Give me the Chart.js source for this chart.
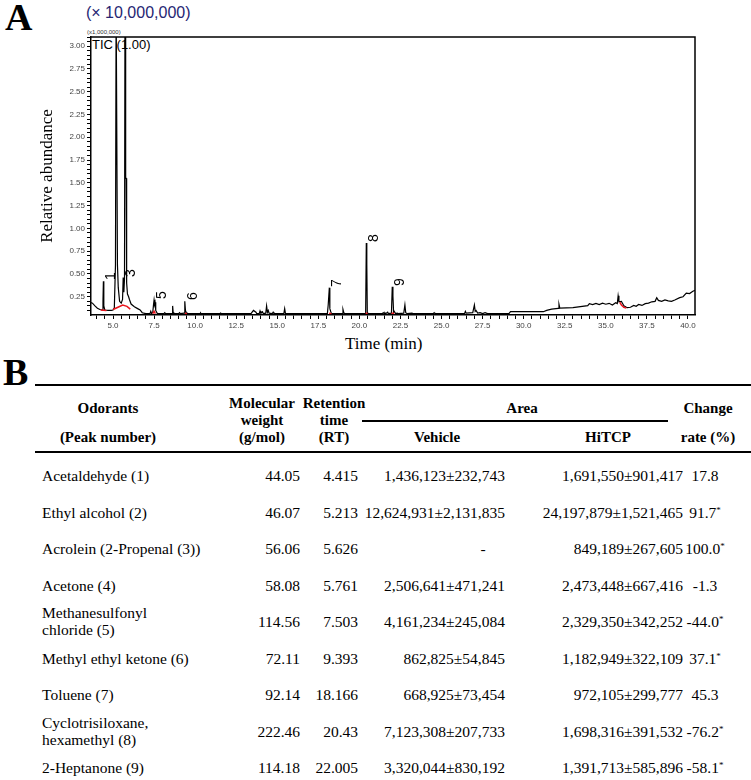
<!DOCTYPE html>
<html><head><meta charset="utf-8">
<script src="https://cdn.jsdelivr.net/npm/chart.js@4.4.1/dist/chart.umd.min.js"></script>
<style>
html,body{margin:0;padding:0;background:#fff;}
#page{position:relative;width:751px;height:780px;overflow:hidden;background:#fff;font-family:"Liberation Serif","Times New Roman",serif;color:#000;}
.abs{position:absolute;white-space:nowrap;line-height:1;}
#chartBox{position:absolute;left:0;top:0;width:751px;height:360px;z-index:2;}
.panel{font-weight:bold;font-size:38px;}
.plab{position:absolute;font-family:"Liberation Sans",Arial,sans-serif;font-size:14px;line-height:1;white-space:nowrap;transform:translate(-50%,-50%) rotate(-90deg);z-index:3;color:#000;}
.cell{position:absolute;white-space:nowrap;font-size:15.5px;line-height:17px;transform:translateY(-50%);}
.hd{font-weight:bold;font-size:15px;}
.rule{position:absolute;background:#000;}
sup{font-size:9px;vertical-align:top;position:relative;top:-2px;}
</style></head>
<body><div id="page">
<div class="abs panel" style="left:5px;top:-2px;">A</div>
<div class="abs" style="left:86px;top:5px;font-family:'Liberation Sans',Arial,sans-serif;font-size:16px;color:#262673;">(× 10,000,000)</div>
<div class="abs" style="left:87px;top:29px;font-family:'Liberation Sans',Arial,sans-serif;font-size:6px;color:#333;z-index:1;">(x1,000,000)</div>
<div class="abs" style="left:92px;top:38px;font-family:'Liberation Sans',Arial,sans-serif;font-size:13px;color:#000;z-index:1;">TIC (1.00)</div>
<div id="chartBox"><canvas id="c" width="751" height="360"></canvas></div>
<div class="abs" style="left:345px;top:335px;font-size:17px;">Time (min)</div>
<div class="abs panel" style="left:3px;top:353px;">B</div>
</div>
<script>
// ---------- Chromatogram data (time in min, abundance in x1,000,000) ----------
const times = [3.66,3.75,3.9,4.05,4.2,4.35,4.39,4.415,4.44,4.5,4.7,4.9,5.0,5.08,5.15,5.19,5.23,5.27,5.32,5.4,5.5,5.58,5.62,5.66,5.70,5.73,5.76,5.78,5.80,5.83,5.88,5.95,6.0,6.1,6.3,6.5,6.65,6.78,7.0,
7.25,7.3,7.35,7.42,7.47,7.50,7.53,7.56,7.6,7.7,8.1,8.15,8.2,8.6,8.63,8.66,8.7,9.0,9.05,9.1,9.33,9.37,9.41,9.45,9.5,10.3,10.33,10.36,11.5,11.55,11.6,
13.4,13.55,13.7,13.75,13.9,13.95,14.0,14.1,14.15,14.3,14.35,14.4,14.45,14.5,14.7,14.75,14.8,15.4,15.45,15.5,
18.05,18.1,18.17,18.2,18.25,18.3,18.95,19.0,19.05,19.1,20.38,20.42,20.45,20.48,20.5,21.4,21.45,21.5,21.55,21.6,21.72,21.76,21.95,22.0,22.04,22.08,22.12,22.2,22.3,22.35,22.7,22.77,22.82,22.9,23.2,23.25,24.5,24.55,24.6,
26.4,26.45,26.5,26.9,27.0,27.05,27.1,27.2,27.35,27.5,27.65,27.8,29.1,29.2,31.2,31.4,31.7,32.1,32.15,32.2,33.0,33.9,34.0,34.2,34.4,34.6,34.8,35.0,35.2,35.4,35.6,35.7,35.75,35.8,35.95,36.1,36.3,36.5,36.7,36.85,37.0,37.2,37.4,37.6,37.8,38.0,38.1,38.2,38.4,38.6,38.8,39.0,39.2,39.5,39.7,39.9,40.1,40.3,40.43];
const abundance = [0.185,0.18,0.15,0.125,0.11,0.105,0.2,0.42,0.15,0.105,0.1,0.1,0.105,0.13,0.60,3.5,3.5,0.6,0.35,0.2,0.18,0.22,0.46,0.3,0.45,3.5,3.5,1.55,1.55,0.4,0.28,0.25,0.22,0.17,0.14,0.12,0.105,0.075,0.065,
0.065,0.09,0.065,0.08,0.17,0.215,0.17,0.19,0.1,0.065,0.065,0.075,0.065,0.065,0.15,0.08,0.065,0.065,0.075,0.065,0.07,0.2,0.1,0.08,0.065,0.065,0.072,0.065,0.065,0.072,0.065,
0.065,0.1,0.08,0.065,0.065,0.095,0.07,0.085,0.065,0.07,0.15,0.08,0.1,0.07,0.065,0.08,0.065,0.065,0.12,0.065,
0.065,0.16,0.35,0.12,0.09,0.065,0.065,0.11,0.075,0.065,0.065,0.84,0.61,0.08,0.065,0.065,0.075,0.065,0.075,0.065,0.08,0.065,0.07,0.36,0.26,0.08,0.09,0.065,0.07,0.065,0.07,0.16,0.075,0.065,0.07,0.065,0.065,0.075,0.065,
0.065,0.09,0.07,0.075,0.16,0.09,0.1,0.07,0.075,0.065,0.075,0.065,0.065,0.086,0.086,0.1,0.115,0.123,0.167,0.125,0.13,0.152,0.175,0.165,0.178,0.165,0.18,0.168,0.178,0.16,0.185,0.175,0.26,0.195,0.2,0.15,0.13,0.135,0.155,0.145,0.165,0.155,0.175,0.18,0.195,0.2,0.24,0.21,0.2,0.215,0.205,0.2,0.215,0.24,0.25,0.29,0.285,0.31,0.32];
// red integration baselines (null = break)
const redTimes = [4.25,4.6,4.6, 5.0,5.3,5.59,5.85,6.05,6.05, 7.42,7.5,7.58,7.58, 9.38,9.5,9.5, 18.15,18.3,18.3, 20.38,20.5,20.5, 21.95,22.12,22.12, 35.85,35.95,36.1,36.25];
const redValues = [0.105,0.1,null, 0.11,0.135,0.16,0.145,0.115,null, 0.065,0.09,0.065,null, 0.07,0.065,null, 0.07,0.065,null, 0.07,0.07,null, 0.07,0.07,null, 0.19,0.16,0.135,0.125];
// labelled peaks
const peakNumbers = ["1","3","5","6","7","8","9"];
const peakTimes = [4.415,5.62,7.50,9.37,18.17,20.42,22.0];
const peakApex = [0.42,0.46,0.215,0.2,0.35,0.84,0.36];
// axis ticks
const xMajorTicks = [5.0,7.5,10.0,12.5,15.0,17.5,20.0,22.5,25.0,27.5,30.0,32.5,35.0,37.5,40.0];
const yMajorTicks = [0.25,0.50,0.75,1.00,1.25,1.50,1.75,2.00,2.25,2.50,2.75,3.00];

// ---------- Table data ----------
const odorants = ["Acetaldehyde (1)","Ethyl alcohol (2)","Acrolein (2-Propenal (3))","Acetone (4)","Methanesulfonyl\nchloride (5)","Methyl ethyl ketone (6)","Toluene (7)","Cyclotrisiloxane,\nhexamethyl (8)","2-Heptanone (9)"];
const molWeight = ["44.05","46.07","56.06","58.08","114.56","72.11","92.14","222.46","114.18"];
const retTime = ["4.415","5.213","5.626","5.761","7.503","9.393","18.166","20.43","22.005"];
const vehicleArea = ["1,436,123±232,743","12,624,931±2,131,835","-","2,506,641±471,241","4,161,234±245,084","862,825±54,845","668,925±73,454","7,123,308±207,733","3,320,044±830,192"];
const hitcpArea = ["1,691,550±901,417","24,197,879±1,521,465","849,189±267,605","2,473,448±667,416","2,329,350±342,252","1,182,949±322,109","972,105±299,777","1,698,316±391,532","1,391,713±585,896"];
const changeRate = ["17.8","91.7","100.0","-1.3","-44.0","37.1","45.3","-76.2","-58.1"];
const significant = [false,true,true,false,true,true,false,true,true];

// ---------- Chart ----------
const xTickValues = []; for (let t = 4.0; t <= 40.0001; t += 0.5) xTickValues.push(Math.round(t*10)/10);
const yTickValues = []; for (let v = 0.10; v <= 3.10001; v += 0.05) yTickValues.push(Math.round(v*100)/100);
const isMajor = (v, arr) => arr.some(m => Math.abs(m - v) < 1e-6);

const framePlugin = {
  id:'frame',
  afterDatasetsDraw(chart){
    const {ctx, chartArea:a} = chart;
    ctx.save(); ctx.strokeStyle='#000'; ctx.lineWidth=1.5;
    ctx.beginPath(); ctx.moveTo(a.left, a.top); ctx.lineTo(a.right, a.top); ctx.lineTo(a.right, a.bottom); ctx.stroke();
    ctx.restore();
  }
};
const labelEls = peakNumbers.map(n => { const d = document.createElement('div'); d.className='plab'; d.textContent=n; document.getElementById('page').appendChild(d); return d; });
const labelPlugin = {
  id:'peakLabels',
  afterDraw(chart){
    const xs = chart.scales.x, ys = chart.scales.y;
    peakNumbers.forEach((n,i) => {
      const px = xs.getPixelForValue(peakTimes[i]), py = ys.getPixelForValue(peakApex[i]);
      labelEls[i].style.left = (px + 7) + 'px';
      labelEls[i].style.top = (py - 5) + 'px';
    });
  }
};

new Chart(document.getElementById('c'), {
  type:'line',
  data:{datasets:[
    {data: redTimes.map((t,i)=>({x:t,y:redValues[i]})), borderColor:'#e8141c', borderWidth:1.5, pointRadius:0, tension:0, spanGaps:false, order:0},
    {data: times.map((t,i)=>({x:t,y:abundance[i]})), borderColor:'#000', borderWidth:1.2, pointRadius:0, tension:0, order:1}
  ]},
  options:{
    responsive:false, animation:false,
    layout:{padding:{left:37,top:37,right:56,bottom:0}},
    plugins:{legend:{display:false}, tooltip:{enabled:false}},
    scales:{
      x:{type:'linear', min:3.66, max:40.43,
        afterBuildTicks: s => { s.ticks = xTickValues.map(v => ({value:v})); },
        afterFit: s => { s.height = 45; },
        ticks:{autoSkip:false, maxRotation:0, padding:2, color:'#444', font:{family:'Liberation Sans', size:8},
          callback: v => isMajor(v, xMajorTicks) ? v.toFixed(1) : ''},
        grid:{drawOnChartArea:false, tickLength:4, color:'#000', lineWidth:1},
        border:{display:true, color:'#000', width:1.5}
      },
      y:{type:'linear', min:0.05, max:3.10,
        afterBuildTicks: s => { s.ticks = yTickValues.map(v => ({value:v})); },
        afterFit: s => { s.width = 54; },
        ticks:{autoSkip:false, padding:2, color:'#444', font:{family:'Liberation Sans', size:8},
          callback: v => isMajor(v, yMajorTicks) ? v.toFixed(2) : ''},
        grid:{drawOnChartArea:false, tickLength:4, color:'#000', lineWidth:1},
        border:{display:true, color:'#000', width:1.5},
        title:{display:true, text:'Relative abundance', color:'#000', font:{family:'Liberation Serif', size:17}, padding:{top:0,bottom:0}}
      }
    }
  },
  plugins:[framePlugin, labelPlugin]
});

// ---------- Table ----------
const page = document.getElementById('page');
function rule(x, y, w, h){ const d=document.createElement('div'); d.className='rule'; Object.assign(d.style,{left:x+'px',top:y+'px',width:w+'px',height:h+'px'}); page.appendChild(d); }
function cell(html, x, y, align, extra){
  const d = document.createElement('div'); d.className = 'cell' + (extra ? ' '+extra : ''); d.innerHTML = html;
  d.style.top = y + 'px';
  if (align === 'left') { d.style.left = x + 'px'; }
  else if (align === 'right') { d.style.right = (751 - x) + 'px'; d.style.textAlign='right'; }
  else { d.style.left = x + 'px'; d.style.transform = 'translate(-50%,-50%)'; d.style.textAlign='center'; }
  page.appendChild(d); return d;
}
rule(35, 384, 716, 2);
rule(362, 420, 306, 1.5);
rule(35, 451, 716, 2);
cell('Odorants', 108, 408, 'center', 'hd');
cell('(Peak number)', 108, 437, 'center', 'hd');
cell('Molecular<br>weight<br>(g/mol)', 262, 420, 'center', 'hd');
cell('Retention<br>time<br>(RT)', 334, 420, 'center', 'hd');
cell('Area', 522, 408, 'center', 'hd');
cell('Vehicle', 437, 437, 'center', 'hd');
cell('HiTCP', 608, 437, 'center', 'hd');
cell('Change', 708, 408, 'center', 'hd');
cell('rate (%)', 708, 437, 'center', 'hd');
const rowY0 = 475, rowH = 36.5;
odorants.forEach((name, i) => {
  const y = rowY0 + i*rowH;
  cell(name.replace('\n','<br>'), 42, y, 'left');
  cell(molWeight[i], 300, y, 'right');
  cell(retTime[i], 358, y, 'right');
  if (vehicleArea[i] === '-') cell('-', 483, y, 'center');
  else cell(vehicleArea[i], 505, y, 'right');
  cell(hitcpArea[i], 683, y, 'right');
  cell(changeRate[i] + (significant[i] ? '<sup>*</sup>' : ''), 705, y, 'center');
});
</script>
</body></html>
